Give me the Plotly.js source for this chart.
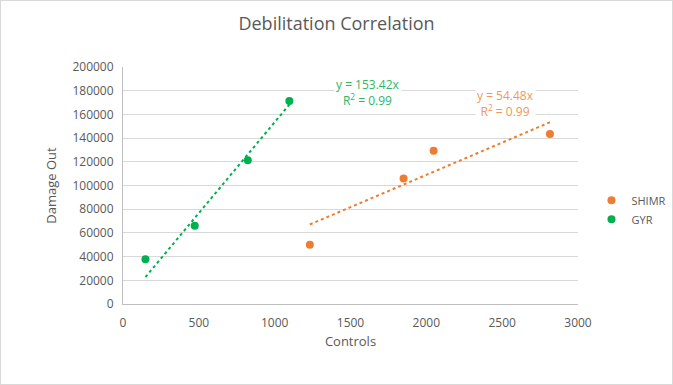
<!DOCTYPE html>
<html>
<head>
<meta charset="utf-8">
<script src="https://cdn.plot.ly/plotly-3.0.1.min.js"></script>
<style>
html,body{margin:0;padding:0;background:#fff;}
#chart{width:671px;height:383px;border:1px solid #d9d9d9;}
</style>
</head>
<body>
<div id="chart"></div>
<script>
const shimrX = [1232, 1850, 2048, 2815];
const shimrY = [50000, 106000, 129400, 143500];
const gyrX = [148, 473, 823, 1097];
const gyrY = [37700, 66100, 121300, 171300];
const shimrSlope = 54.48;
const gyrSlope = 153.42;
const shimrR2 = 0.99;
const gyrR2 = 0.99;
const xTicks = [0, 500, 1000, 1500, 2000, 2500, 3000];
const yTicks = [0, 20000, 40000, 60000, 80000, 100000, 120000, 140000, 160000, 180000, 200000];

const orange = '#ED7D31';
const green = '#00B050';
const gray = '#595959';

function trend(xs, slope) {
  const lo = Math.min(...xs), hi = Math.max(...xs);
  return {x: [lo, hi], y: [lo * slope, hi * slope]};
}
const tS = trend(shimrX, shimrSlope);
const tG = trend(gyrX, gyrSlope);

const data = [
  {x: shimrX, y: shimrY, mode: 'markers', type: 'scatter', name: 'SHIMR',
   marker: {color: orange, size: 8}},
  {x: gyrX, y: gyrY, mode: 'markers', type: 'scatter', name: 'GYR',
   marker: {color: green, size: 8}},
  {x: tS.x, y: tS.y, mode: 'lines', type: 'scatter', showlegend: false, hoverinfo: 'skip',
   line: {color: orange, width: 2, dash: 'dot'}},
  {x: tG.x, y: tG.y, mode: 'lines', type: 'scatter', showlegend: false, hoverinfo: 'skip',
   line: {color: green, width: 2, dash: 'dot'}}
];

const layout = {
  width: 671, height: 383,
  margin: {l: 122, r: 94, t: 66, b: 80},
  paper_bgcolor: '#fff', plot_bgcolor: '#fff',
  font: {family: 'Open Sans, Lato, sans-serif', color: gray, size: 12},
  title: {text: 'Debilitation Correlation', font: {size: 18, color: gray}, x: 0.5, xanchor: 'center', y: 0.94, yanchor: 'middle'},
  xaxis: {
    range: [0, 3000], tickvals: xTicks, ticktext: xTicks.map(String),
    showgrid: false, zeroline: false, showline: true, linecolor: '#bfbfbf', linewidth: 1,
    ticks: '', ticklabelstandoff: 8, tickfont: {size: 12, color: gray},
    title: {text: 'Controls', font: {size: 13, color: gray}, standoff: 6}
  },
  yaxis: {
    range: [0, 200000], tickvals: yTicks, ticktext: yTicks.map(String),
    showgrid: true, gridcolor: '#d9d9d9', gridwidth: 1, zeroline: false,
    showline: true, linecolor: '#bfbfbf', linewidth: 1, ticks: '', ticklabelstandoff: 6,
    tickfont: {size: 12, color: gray},
    title: {text: 'Damage Out', font: {size: 13, color: gray}, standoff: 12}
  },
  legend: {xref: 'container', yref: 'container', x: 0.88, y: 0.455, xanchor: 'left', yanchor: 'middle',
           font: {size: 11, color: gray}, bgcolor: 'rgba(0,0,0,0)', tracegroupgap: 4},
  annotations: [
    {x: 1617, y: 178600, xref: 'x', yref: 'y', showarrow: false,
     text: 'y = ' + gyrSlope + 'x<br>R<sup>2</sup> = ' + gyrR2,
     font: {size: 12, color: '#2db864'}, bgcolor: '#fff', align: 'center'},
    {x: 2525, y: 169600, xref: 'x', yref: 'y', showarrow: false,
     text: 'y = ' + shimrSlope + 'x<br>R<sup>2</sup> = ' + shimrR2,
     font: {size: 12, color: '#f0975a'}, bgcolor: '#fff', align: 'center'}
  ]
};

Plotly.newPlot('chart', data, layout, {displayModeBar: false, staticPlot: true});
</script>
</body>
</html>
